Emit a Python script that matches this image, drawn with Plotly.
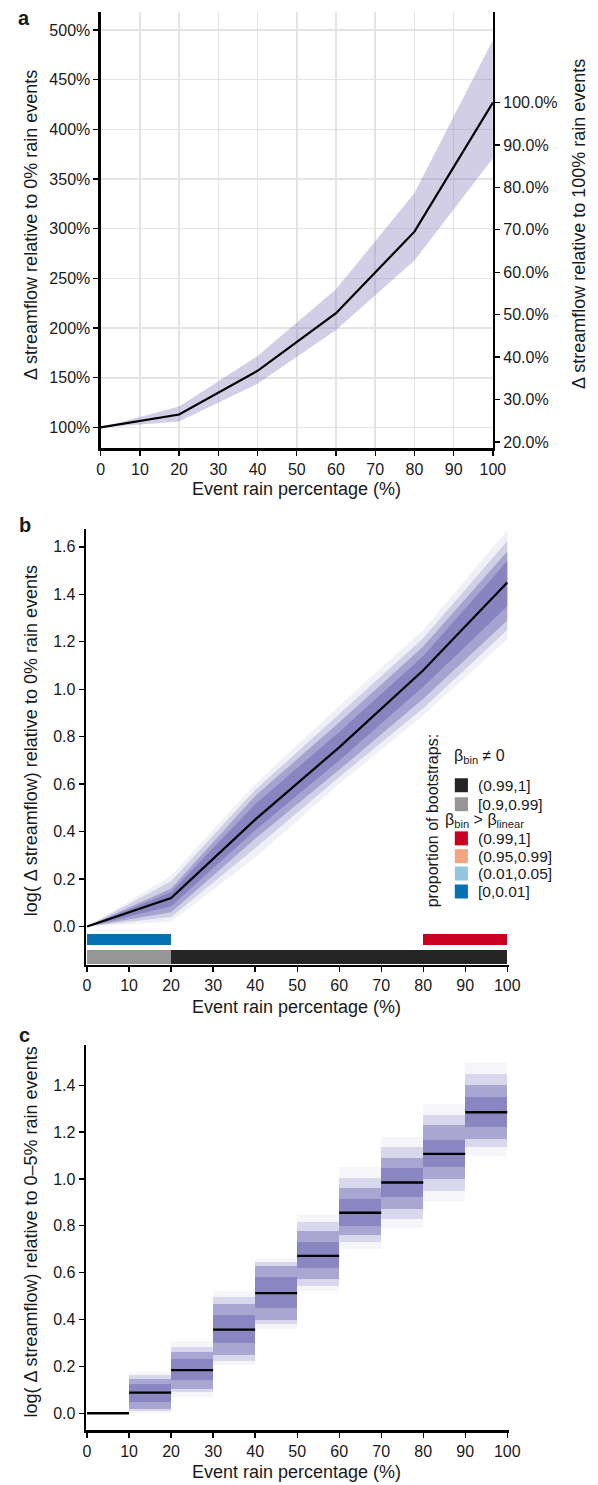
import plotly.graph_objects as go

W, H = 598, 1485


def px(x):
    return x / W


def py(y):
    return 1 - y / H


FONT = "Liberation Sans, Arial, sans-serif"
INK = "#1a1a1a"

# ---------------- panel a data ----------------
a_x = [0, 20, 40, 60, 80, 100]
a_median = [100, 113, 157, 215, 297, 427]
a_low = [100, 106, 144, 198, 268, 371]
a_high = [100, 121, 172, 239, 336, 490]
a_left_ticks = [100, 150, 200, 250, 300, 350, 400, 450, 500]
a_right_ticks = [20, 30, 40, 50, 60, 70, 80, 90, 100]

# ---------------- panel b data ----------------
b_x = [0, 20, 40, 60, 80, 100]
b_median = [0, 0.12, 0.45, 0.755, 1.08, 1.45]
b_faint_low = [0, 0.02, 0.29, 0.60, 0.89, 1.21]
b_faint_high = [0, 0.215, 0.60, 0.93, 1.25, 1.67]
b_outer_low = [0, 0.04, 0.33, 0.63, 0.92, 1.25]
b_outer_high = [0, 0.19, 0.575, 0.895, 1.215, 1.625]
b_dense_low = [0, 0.06, 0.37, 0.66, 0.96, 1.29]
b_dense_high = [0, 0.16, 0.55, 0.86, 1.18, 1.58]
b_core_low = [0, 0.085, 0.405, 0.70, 1.01, 1.35]
b_core_high = [0, 0.145, 0.515, 0.82, 1.14, 1.54]

nonzero_start = [0, 20]
nonzero_end = [20, 100]
nonzero_class = ["[0.9,0.99]", "(0.99,1]"]
linear_start = [0, 80]
linear_end = [20, 100]
linear_class = ["[0,0.01]", "(0.99,1]"]

nonzero_colors = {"(0.99,1]": "#252525", "[0.9,0.99]": "#969696"}
linear_colors = {"(0.99,1]": "#ca0020", "(0.95,0.99]": "#f4a582",
                 "(0.01,0.05]": "#92c5de", "[0,0.01]": "#0571b0"}

# ---------------- panel c data ----------------
c_bin_start = [0, 10, 20, 30, 40, 50, 60, 70, 80, 90]
c_median = [0, 0.088, 0.184, 0.357, 0.513, 0.672, 0.856, 0.985, 1.107, 1.285]
c_faint_low = [0, 0.00, 0.07, 0.205, 0.36, 0.52, 0.70, 0.79, 0.90, 1.10]
c_faint_high = [0, 0.177, 0.31, 0.52, 0.66, 0.85, 1.05, 1.18, 1.32, 1.50]
c_outer_low = [0, 0.01, 0.09, 0.225, 0.38, 0.545, 0.73, 0.83, 0.95, 1.135]
c_outer_high = [0, 0.163, 0.285, 0.495, 0.645, 0.815, 1.005, 1.135, 1.275, 1.45]
c_dense_low = [0, 0.02, 0.105, 0.25, 0.40, 0.575, 0.76, 0.87, 1.00, 1.17]
c_dense_high = [0, 0.148, 0.263, 0.468, 0.63, 0.78, 0.96, 1.09, 1.23, 1.40]
c_core_low = [0, 0.05, 0.14, 0.30, 0.45, 0.62, 0.80, 0.925, 1.05, 1.22]
c_core_high = [0, 0.125, 0.23, 0.42, 0.58, 0.73, 0.915, 1.045, 1.165, 1.35]

x_ticks = list(range(0, 101, 10))
b_ticks = [0, 0.2, 0.4, 0.6, 0.8, 1.0, 1.2, 1.4, 1.6]
c_ticks = [0, 0.2, 0.4, 0.6, 0.8, 1.0, 1.2, 1.4]

fig = go.Figure()

# ---------- panel a ----------
fig.add_trace(go.Scatter(
    x=a_x + a_x[::-1], y=a_high + a_low[::-1], fill="toself",
    fillcolor="rgba(117,107,177,0.33)", line=dict(width=0),
    mode="lines", xaxis="x", yaxis="y", hoverinfo="skip", showlegend=False))
fig.add_trace(go.Scatter(
    x=a_x, y=a_median, mode="lines", line=dict(color="black", width=2.2),
    xaxis="x", yaxis="y", showlegend=False))
fig.add_trace(go.Scatter(
    x=[a_x[-1]], y=[100], mode="markers", marker=dict(opacity=0),
    xaxis="x", yaxis="y2", showlegend=False, hoverinfo="skip"))

# ---------- panel b ----------
band_col = "112,108,180"
for lo, hi, alpha in [(b_faint_low, b_faint_high, 0.10),
                      (b_outer_low, b_outer_high, 0.25),
                      (b_dense_low, b_dense_high, 0.45),
                      (b_core_low, b_core_high, 0.55)]:
    fig.add_trace(go.Scatter(
        x=b_x + b_x[::-1], y=hi + lo[::-1], fill="toself",
        fillcolor=f"rgba({band_col},{alpha})", line=dict(width=0),
        mode="lines", xaxis="x2", yaxis="y3", hoverinfo="skip", showlegend=False))
fig.add_trace(go.Scatter(
    x=b_x, y=b_median, mode="lines", line=dict(color="black", width=2.2),
    xaxis="x2", yaxis="y3", showlegend=False))

for s, e, cl in zip(linear_start, linear_end, linear_class):
    fig.add_trace(go.Bar(
        x=[(s + e) / 2], width=[e - s], base=[-0.080], y=[0.049],
        marker=dict(color=linear_colors[cl], line=dict(width=0)),
        xaxis="x2", yaxis="y3", showlegend=False))
for s, e, cl in zip(nonzero_start, nonzero_end, nonzero_class):
    fig.add_trace(go.Bar(
        x=[(s + e) / 2], width=[e - s], base=[-0.160], y=[0.062],
        marker=dict(color=nonzero_colors[cl], line=dict(width=0)),
        xaxis="x2", yaxis="y3", showlegend=False))

# ---------- panel c ----------
c_center = [s + 5 for s in c_bin_start]
for lo, hi, alpha in [(c_faint_low, c_faint_high, 0.07),
                      (c_outer_low, c_outer_high, 0.22),
                      (c_dense_low, c_dense_high, 0.45),
                      (c_core_low, c_core_high, 0.55)]:
    fig.add_trace(go.Bar(
        x=c_center, base=lo, y=[h - l for h, l in zip(hi, lo)], width=10,
        marker=dict(color=f"rgba({band_col},{alpha})", line=dict(width=0)),
        xaxis="x3", yaxis="y4", showlegend=False, hoverinfo="skip"))
seg_x, seg_y = [], []
for s, m in zip(c_bin_start, c_median):
    seg_x += [s, s + 10, None]
    seg_y += [m, m, None]
fig.add_trace(go.Scatter(
    x=seg_x, y=seg_y, mode="lines", line=dict(color="black", width=2.4),
    xaxis="x3", yaxis="y4", showlegend=False))

axis_common = dict(
    showline=True, linecolor="black", linewidth=2.2, ticks="outside",
    ticklen=5, tickwidth=1.3, tickcolor="black", zeroline=False,
    tickmode="array",
    tickfont=dict(family=FONT, size=16, color=INK), fixedrange=True)

ratio = a_median[-1] / 100.0
a_range = [78.9, 518.4]

fig.update_layout(
    width=W, height=H, margin=dict(l=0, r=0, t=0, b=0),
    paper_bgcolor="white", plot_bgcolor="white", barmode="overlay",
    bargap=0, showlegend=False,
    font=dict(family=FONT, size=16, color=INK),
    xaxis=dict(domain=[px(99.5), px(503.2)], range=[0, 100], anchor="y",
               tickvals=x_ticks, ticktext=[str(v) for v in x_ticks],
               showgrid=True, gridcolor="#e4e4e4", gridwidth=1.6, **axis_common),
    yaxis=dict(domain=[py(449), py(11.7)], range=a_range, anchor="x",
               tickvals=a_left_ticks, ticktext=[f"{v}%" for v in a_left_ticks],
               showgrid=True, gridcolor="#e4e4e4", gridwidth=1.6, **axis_common),
    yaxis2=dict(overlaying="y", side="right", anchor="x",
                range=[a_range[0] / ratio, a_range[1] / ratio],
                tickvals=a_right_ticks,
                ticktext=[f"{v:.1f}%" for v in a_right_ticks],
                showgrid=False, **axis_common),
    xaxis2=dict(domain=[px(84.2), px(519.3)], range=[-0.3, 100.3], anchor="y3",
                tickvals=x_ticks, ticktext=[str(v) for v in x_ticks],
                showgrid=False, **axis_common),
    yaxis3=dict(domain=[py(966.3), py(529.3)], range=[-0.1625, 1.677], anchor="x2",
                tickvals=b_ticks, ticktext=[f"{v:.1f}" for v in b_ticks],
                showgrid=False, **axis_common),
    xaxis3=dict(domain=[px(84.2), px(519.3)], range=[-0.3, 100.3], anchor="y4",
                tickvals=x_ticks, ticktext=[str(v) for v in x_ticks],
                showgrid=False, **axis_common),
    yaxis4=dict(domain=[py(1432.3), py(1046.7)], range=[-0.0729, 1.5705], anchor="x3",
                tickvals=c_ticks, ticktext=[f"{v:.1f}" for v in c_ticks],
                showgrid=False, **axis_common),
)

ann = []


def text(x, y, t, size=16, angle=0, xanchor="center"):
    ann.append(dict(x=px(x), y=py(y), xref="paper", yref="paper", text=t,
                    showarrow=False, textangle=angle, xanchor=xanchor,
                    yanchor="middle",
                    font=dict(family=FONT, size=size, color=INK)))


TS = 18
# panel labels
text(21, 18, "<b>a</b>", size=20)
text(22, 526, "<b>b</b>", size=20)
text(21, 1036, "<b>c</b>", size=20)

# axis titles
text(27, 225, "Δ streamflow relative to 0% rain events", size=TS, angle=-90)
text(591, 224, "Δ streamflow relative to 100% rain events", size=TS, angle=-90)
text(301, 490, "Event rain percentage (%)", size=TS)
text(28, 742, "log( Δ streamflow) relative to 0% rain events", size=TS, angle=-90)
text(301, 1008, "Event rain percentage (%)", size=TS)
text(28, 1234, "log( Δ streamflow) relative to 0–5% rain events", size=TS, angle=-90)
text(301, 1474, "Event rain percentage (%)", size=TS)

# legend for panel b
text(441, 822, "proportion of bootstraps:", size=16, angle=-90)
text(461, 758, "β<sub>bin</sub> ≠ 0", size=16, xanchor="left")
text(452, 822, "β<sub>bin</sub> > β<sub>linear</sub>", size=16, xanchor="left")

shapes = []
legend_items = [("(0.99,1]", nonzero_colors["(0.99,1]"], 786.3),
                ("[0.9,0.99]", nonzero_colors["[0.9,0.99]"], 805.3),
                ("(0.99,1]", linear_colors["(0.99,1]"], 839.5),
                ("(0.95,0.99]", linear_colors["(0.95,0.99]"], 857.3),
                ("(0.01,0.05]", linear_colors["(0.01,0.05]"], 874.7),
                ("[0,0.01]", linear_colors["[0,0.01]"], 892.7)]
for lab, col, cy in legend_items:
    shapes.append(dict(type="rect", xref="paper", yref="paper",
                       x0=px(464), x1=px(477.5), y0=py(cy + 7), y1=py(cy - 7),
                       fillcolor=col, line=dict(width=0)))
    text(486, cy, lab, size=15.5, xanchor="left")

fig.update_layout(annotations=ann, shapes=shapes)

# remove the default page margin so the figure sits at the window's corner
fig.write_html(
    "out.html",
    config={"displayModeBar": False, "staticPlot": True},
    post_script="document.body.style.margin='0';"
                "document.documentElement.style.overflow='hidden';")
